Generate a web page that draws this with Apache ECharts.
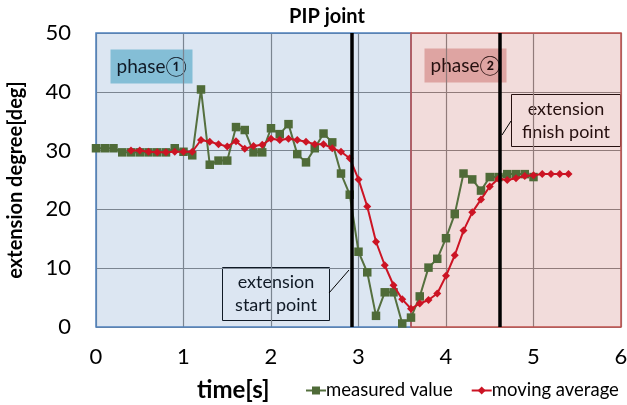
<!DOCTYPE html>
<html><head><meta charset="utf-8">
<script src="https://cdn.jsdelivr.net/npm/echarts@6/dist/echarts.min.js"></script>
<style>html,body{margin:0;padding:0;background:#fff}#c{width:627px;height:405px}</style>
</head><body><div id="c"></div>
<script>
const measuredTimes = [0,0.1,0.2,0.3,0.4,0.5,0.6,0.7,0.8,0.9,1.0,1.1,1.2,1.3,1.4,1.5,1.6,1.7,1.8,1.9,2.0,2.1,2.2,2.3,2.4,2.5,2.6,2.7,2.8,2.9,3.0,3.1,3.2,3.3,3.4,3.5,3.6,3.7,3.8,3.9,4.0,4.1,4.2,4.3,4.4,4.5,4.6,4.7,4.8,4.9,5.0];
const measuredValues = [30.4,30.4,30.4,29.7,29.7,29.7,29.7,29.7,29.7,30.4,29.8,29.2,40.4,27.6,28.3,28.3,34.0,33.5,29.7,29.7,33.8,32.8,34.5,29.4,28.0,30.4,32.9,31.4,26.1,22.5,12.8,9.3,1.9,5.9,5.9,0.6,1.6,5.2,10.1,11.6,15.1,19.2,26.1,25.1,23.2,25.5,25.5,26.0,26.0,26.0,25.5];
const averageTimes = [0.4,0.5,0.6,0.7,0.8,0.9,1.0,1.1,1.2,1.3,1.4,1.5,1.6,1.7,1.8,1.9,2.0,2.1,2.2,2.3,2.4,2.5,2.6,2.7,2.8,2.9,3.0,3.1,3.2,3.3,3.4,3.5,3.6,3.7,3.8,3.9,4.0,4.1,4.2,4.3,4.4,4.5,4.6,4.7,4.8,4.9,5.0,5.1,5.2,5.3,5.4];
const averageValues = [30.0,30.0,29.8,29.7,29.7,29.8,29.8,29.8,31.8,31.5,31.1,30.7,31.6,30.3,30.8,31.0,32.0,31.8,32.0,31.8,31.5,31.1,31.1,30.4,29.8,28.7,25.1,20.5,14.5,10.5,7.1,4.7,3.1,4.0,4.6,5.7,8.7,12.2,16.4,19.5,21.7,23.9,25.2,25.0,25.3,25.7,25.8,26.0,26.0,26.0,26.0];
const seriesNames = ['measured value', 'moving average'];
const phaseBounds = [0, 3.6, 6];
const phaseLabels = ['phase\u2460', 'phase\u2461'];
const eventTimes = [2.92, 4.61];
const eventLabels = ['extension\nstart point', 'extension\nfinish point'];
const xTicks = [0, 6, 1];
const yTicks = [0, 50, 10];
const titleText = 'PIP joint';
const xName = 'time[s]';
const yName = 'extension degree[deg]';

const FONT = 'Lato, "Open Sans", sans-serif';
const chart = echarts.init(document.getElementById('c'), null, {renderer: 'canvas'});

const textBox = (x, y, w, h, fill, stroke, text, size) => ({
  type: 'group', left: x, top: y, z: 50,
  children: [
    {type: 'rect', shape: {x: 0, y: 0, width: w, height: h}, style: {fill: fill, stroke: stroke, lineWidth: 1}},
    {type: 'text', x: w / 2, y: h / 2, style: {text: text, fill: '#000', font: size + 'px ' + FONT, align: 'center', verticalAlign: 'middle', lineHeight: 23}}
  ]
});

chart.setOption({
  animation: false,
  title: {text: titleText, left: 322, top: 2, textAlign: 'center', textStyle: {fontFamily: FONT, fontWeight: 'bold', fontSize: 20, color: '#000'}},
  grid: {left: 96, right: 6, top: 33, bottom: 78, containLabel: false, outerBoundsMode: 'none'},
  legend: {
    left: 305, top: 381, width: 400, padding: 0, itemWidth: 20, itemHeight: 10, itemGap: 18,
    textStyle: {fontFamily: FONT, fontSize: 18.5, color: '#000', padding: [0, 0, 0, -5]},
    data: seriesNames
  },
  xAxis: {
    type: 'value', min: xTicks[0], max: xTicks[1], interval: xTicks[2],
    axisLine: {show: false}, axisTick: {show: false},
    axisLabel: {fontFamily: FONT, fontSize: 22, color: '#000', margin: 19},
    splitLine: {show: true, lineStyle: {color: '#868686', width: 1.2}}
  },
  yAxis: {
    type: 'value', min: yTicks[0], max: yTicks[1], interval: yTicks[2],
    name: yName, nameLocation: 'middle', nameGap: 70, nameRotate: 90,
    nameTextStyle: {fontFamily: FONT, fontWeight: 'bold', fontSize: 20, color: '#000'},
    axisLine: {show: false}, axisTick: {show: false},
    axisLabel: {fontFamily: FONT, fontSize: 22, color: '#000', margin: 25},
    splitLine: {show: true, lineStyle: {color: '#868686', width: 1.2}}
  },
  series: [
    {
      type: 'line', data: [], silent: true, z: 1,
      markArea: {
        silent: true,
        data: [
          [{xAxis: phaseBounds[0], yAxis: yTicks[0], itemStyle: {color: 'rgba(79,129,189,0.2)', borderColor: '#4f81bd', borderWidth: 1.5}}, {xAxis: phaseBounds[1], yAxis: yTicks[1]}],
          [{xAxis: phaseBounds[1], yAxis: yTicks[0], itemStyle: {color: 'rgba(192,80,77,0.2)', borderColor: '#c0504d', borderWidth: 1.5}}, {xAxis: phaseBounds[2], yAxis: yTicks[1]}]
        ]
      }
    },
    {
      name: seriesNames[0], type: 'line', z: 3,
      data: measuredTimes.map((t, i) => [t, measuredValues[i]]),
      symbol: 'rect', symbolSize: 8.5,
      lineStyle: {color: '#55703f', width: 2},
      itemStyle: {color: '#4f6b38'}
    },
    {
      name: seriesNames[1], type: 'line', z: 4,
      data: averageTimes.map((t, i) => [t, averageValues[i]]),
      symbol: 'diamond', symbolSize: 8,
      lineStyle: {color: '#cc1424', width: 2},
      itemStyle: {color: '#cc1424'}
    },
    {
      type: 'line', data: [], silent: true, z: 5,
      markLine: {
        silent: true, symbol: 'none', label: {show: false},
        lineStyle: {color: '#000', width: 3.5, type: 'solid'},
        data: eventTimes.map(t => ({xAxis: t}))
      }
    }
  ],
  graphic: [
    textBox(110, 49, 82, 34, '#92cddc', 'transparent', phaseLabels[0], 19),
    textBox(424, 48, 82, 34, '#e6b9b8', 'transparent', phaseLabels[1], 19),
    {type: 'line', z: 50, shape: {x1: 329, y1: 293, x2: 349, y2: 270}, style: {stroke: '#000', lineWidth: 1}},
    {type: 'line', z: 50, shape: {x1: 511, y1: 121, x2: 502, y2: 135}, style: {stroke: '#000', lineWidth: 1}},
    textBox(222, 267, 107, 53, '#fff', '#000', eventLabels[0], 18),
    textBox(511, 94, 109, 52, '#fff', '#000', eventLabels[1], 18),
    {type: 'text', left: 197, top: 378, z: 50, style: {text: xName, fill: '#000', font: 'bold 24px ' + FONT}}
  ]
});
</script></body></html>
